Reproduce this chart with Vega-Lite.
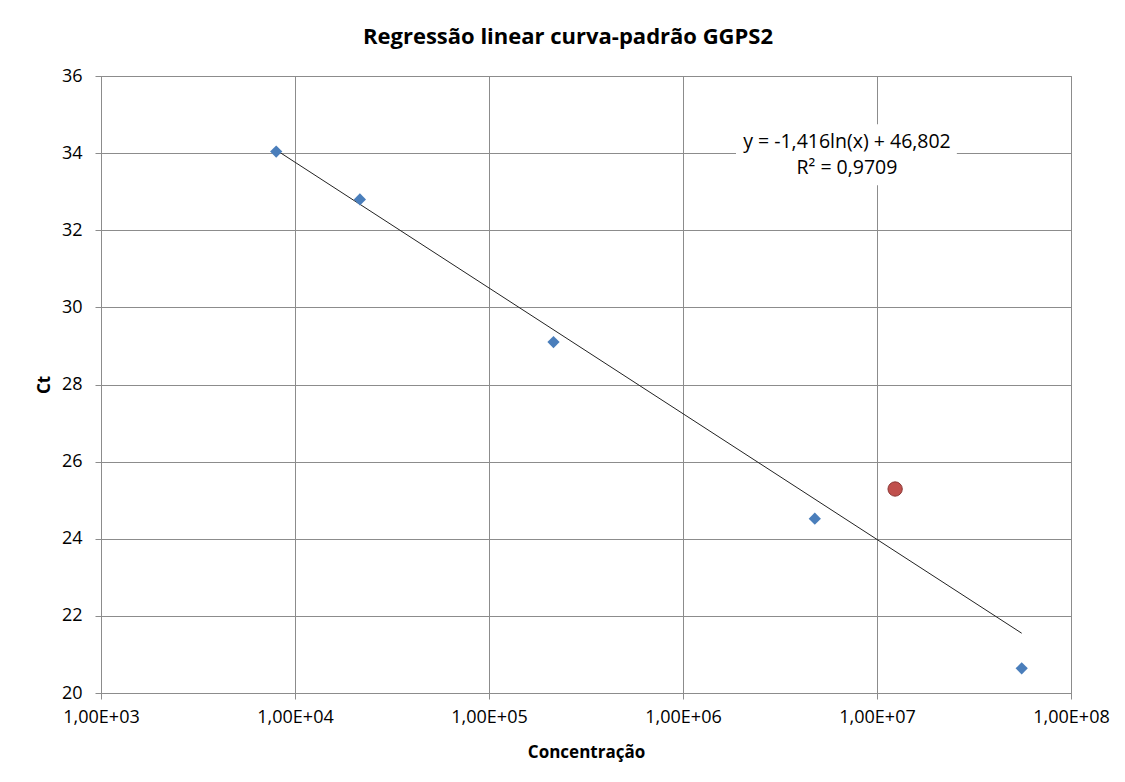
{
  "$schema": "https://vega.github.io/schema/vega-lite/v6.json",
  "width": 970,
  "height": 617,
  "autosize": "none",
  "padding": {"left": 101, "top": 76, "right": 54, "bottom": 89},
  "background": "white",
  "title": {
    "text": "Regressão linear curva-padrão GGPS2",
    "font": "Open Sans",
    "fontSize": 22,
    "fontWeight": "bold",
    "color": "#000000",
    "offset": 18,
    "dx": -18,
    "anchor": "middle"
  },
  "config": {
    "view": {"stroke": "#8c8c8c", "strokeWidth": 1},
    "font": "Open Sans"
  },
  "datasets": {
    "pts": [
      {"conc": 8000, "ct": 34.04},
      {"conc": 21600, "ct": 32.80},
      {"conc": 215000, "ct": 29.10},
      {"conc": 4780000, "ct": 24.52},
      {"conc": 55700000, "ct": 20.64}
    ],
    "sample": [
      {"conc": 12400000, "ct": 25.29}
    ],
    "trend": [
      {"conc": 8000, "ct": 34.08},
      {"conc": 55700000, "ct": 21.55}
    ],
    "box": [
      {"x1": 1876000, "x2": 25800000, "y1": 33.17, "y2": 34.75}
    ],
    "eq": [
      {"conc": 7000000, "ct": 34.29, "label": "y = -1,416ln(x) + 46,802"},
      {"conc": 7000000, "ct": 33.61, "label": "R² = 0,9709"}
    ]
  },
  "layer": [
    {
      "data": {"name": "trend"},
      "mark": {"type": "line", "color": "#222222", "strokeWidth": 1},
      "encoding": {
        "x": {
          "field": "conc", "type": "quantitative",
          "scale": {"type": "log", "domain": [1000, 100000000], "nice": false},
          "axis": {
            "values": [1000, 10000, 100000, 1000000, 10000000, 100000000],
            "labelExpr": "'1,00E+0' + round(log(datum.value)/LN10)",
            "title": "Concentração",
            "titleFont": "Open Sans",
            "titleFontSize": 17,
            "titleFontWeight": "bold",
            "titleColor": "#000000",
            "titlePadding": 18,
            "labelFont": "Open Sans",
            "labelFontSize": 18,
            "labelColor": "#000000",
            "labelPadding": 9,
            "grid": true,
            "gridColor": "#8c8c8c",
            "gridOpacity": 1,
            "domainColor": "#8c8c8c",
            "tickColor": "#8c8c8c",
            "tickSize": 6,
            "labelFlush": false
          }
        },
        "y": {
          "field": "ct", "type": "quantitative",
          "scale": {"domain": [20, 36], "nice": false, "zero": false},
          "axis": {
            "values": [20, 22, 24, 26, 28, 30, 32, 34, 36],
            "title": "Ct",
            "titleFont": "Open Sans",
            "titleFontSize": 17,
            "titleFontWeight": "bold",
            "titleColor": "#000000",
            "titlePadding": 8,
            "labelFont": "Open Sans",
            "labelFontSize": 18,
            "labelColor": "#000000",
            "labelPadding": 13,
            "grid": true,
            "gridColor": "#8c8c8c",
            "gridOpacity": 1,
            "domainColor": "#8c8c8c",
            "tickColor": "#8c8c8c",
            "tickSize": 6
          }
        }
      }
    },
    {
      "data": {"name": "box"},
      "mark": {"type": "rect", "fill": "white"},
      "encoding": {
        "x": {"field": "x1", "type": "quantitative"},
        "x2": {"field": "x2"},
        "y": {"field": "y1", "type": "quantitative"},
        "y2": {"field": "y2"}
      }
    },
    {
      "data": {"name": "eq"},
      "mark": {"type": "text", "font": "Open Sans", "fontSize": 19.5, "color": "#000000", "align": "center", "baseline": "middle"},
      "encoding": {
        "x": {"field": "conc", "type": "quantitative"},
        "y": {"field": "ct", "type": "quantitative"},
        "text": {"field": "label"}
      }
    },
    {
      "data": {"name": "pts"},
      "mark": {"type": "point", "shape": "diamond", "filled": true, "size": 150, "color": "#4a7ebb", "opacity": 1},
      "encoding": {
        "x": {"field": "conc", "type": "quantitative"},
        "y": {"field": "ct", "type": "quantitative"}
      }
    },
    {
      "data": {"name": "sample"},
      "mark": {"type": "point", "shape": "circle", "filled": true, "size": 205, "fill": "#c0504d", "stroke": "#8c3836", "strokeWidth": 1, "opacity": 1, "fillOpacity": 1},
      "encoding": {
        "x": {"field": "conc", "type": "quantitative"},
        "y": {"field": "ct", "type": "quantitative"}
      }
    }
  ]
}
